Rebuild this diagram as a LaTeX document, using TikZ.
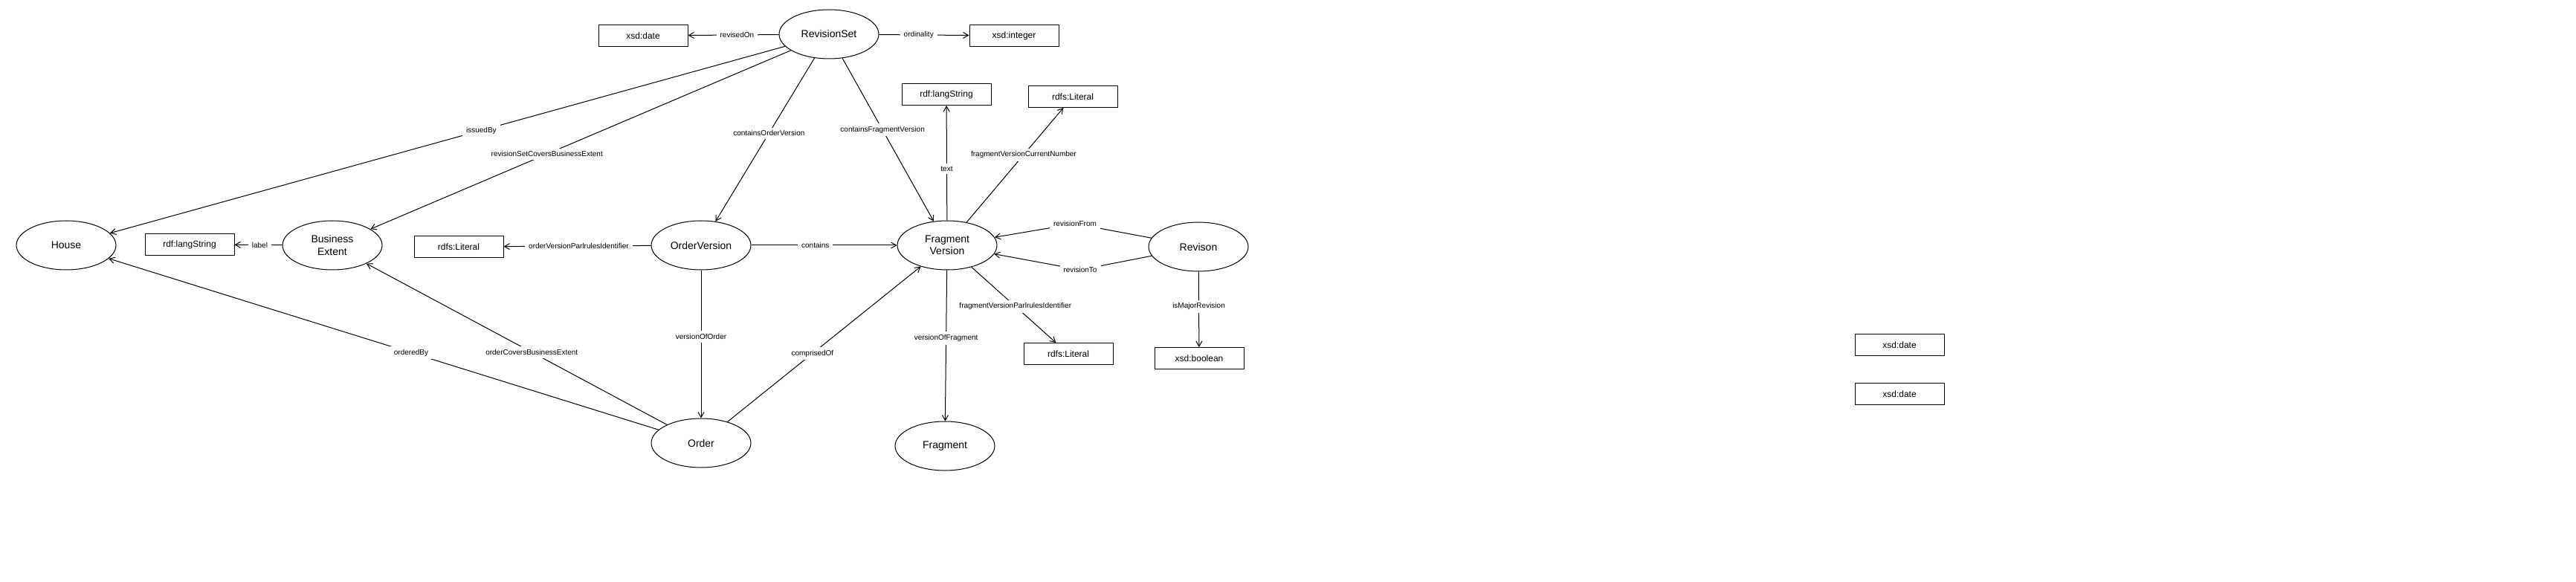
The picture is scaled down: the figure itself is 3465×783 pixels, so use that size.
\documentclass[tikz,border=0pt]{standalone}
\usepackage{fontspec}
\setmainfont{Liberation Sans}
\usetikzlibrary{shapes.geometric,arrows.meta}

\begin{document}
\begin{tikzpicture}[x=1pt, y=-1pt,
    cls/.style={ellipse, draw, line width=1pt, minimum width=134pt, minimum height=66pt, inner sep=0pt, align=center, font=\fontsize{14}{16.5}\selectfont},
    lit/.style={rectangle, draw, line width=1pt, minimum width=120pt, minimum height=29pt, inner sep=0pt, font=\fontsize{12}{14}\selectfont},
    rel/.style={line width=1pt, -{Straight Barb[length=7pt,width=8pt]}},
    lbl/.style={fill=white, inner xsep=5pt, inner ysep=4pt, font=\fontsize{10}{12}\selectfont}]
    \useasboundingbox (0,0) rectangle (3465,783);

    % Draw class nodes
    \node[cls] (revset) at (1115, 46) {RevisionSet};
    \node[cls] (house) at (89, 330) {House};
    \node[cls] (bext) at (447, 330) {Business\\Extent};
    \node[cls] (ordver) at (943, 330) {OrderVersion};
    \node[cls] (fragver) at (1274, 330) {Fragment\\Version};
    \node[cls] (revison) at (1612, 332) {Revison};
    \node[cls] (order) at (943, 596) {Order};
    \node[cls] (fragment) at (1271, 600) {Fragment};

    % Draw literal nodes
    \node[lit] (dateA) at (865, 48) {xsd:date};
    \node[lit] (intA) at (1364, 48) {xsd:integer};
    \node[lit] (langB) at (1273, 127) {rdf:langString};
    \node[lit] (litA) at (1443, 130) {rdfs:Literal};
    \node[lit] (langA) at (255, 329) {rdf:langString};
    \node[lit] (litB) at (617, 332) {rdfs:Literal};
    \node[lit] (litC) at (1437, 476) {rdfs:Literal};
    \node[lit] (boolA) at (1613, 482) {xsd:boolean};
    \node[lit] (dateB) at (2555, 464) {xsd:date};
    \node[lit] (dateC) at (2555, 530) {xsd:date};

    % Bend points
    \coordinate (fromBend) at (1446, 301);
    \coordinate (toBend) at (1453, 363);

    % Draw edges
    \draw[rel] (revset) -- node[lbl, pos=0.46] {revisedOn} (dateA);
    \draw[rel] (revset) -- node[lbl, pos=0.44] {ordinality} (intA);
    \draw[rel] (revset) -- node[lbl, pos=0.45] {issuedBy} (house);
    \draw[rel] (revset) -- node[lbl, pos=0.58] {revisionSetCoversBusinessExtent} (bext);
    \draw[rel] (revset) -- node[lbl, pos=0.46] {containsOrderVersion} (ordver);
    \draw[rel] (revset) -- node[lbl, pos=0.44] {containsFragmentVersion} (fragver);
    \draw[rel] (fragver) -- node[lbl, pos=0.45] {text} (langB);
    \draw[rel] (fragver) -- node[lbl, pos=0.59] {fragmentVersionCurrentNumber} (litA);
    \draw[rel] (fragver) -- node[lbl, pos=0.52] {fragmentVersionParlrulesIdentifier} (litC);
    \draw[rel] (fragver) -- node[lbl, pos=0.45] {versionOfFragment} (fragment);
    \draw[rel] (ordver) -- node[lbl, pos=0.44] {contains} (fragver);
    \draw[rel] (ordver) -- node[lbl, pos=0.49] {orderVersionParlrulesIdentifier} (litB);
    \draw[rel] (bext) -- node[lbl, pos=0.47] {label} (langA);
    \draw[rel] (ordver) -- node[lbl, pos=0.45] {versionOfOrder} (order);
    \draw[rel] (order) -- node[lbl, pos=0.44] {comprisedOf} (fragver);
    \draw[rel] (order) -- node[lbl, pos=0.45] {orderedBy} (house);
    \draw[rel] (order) -- node[lbl, pos=0.45] {orderCoversBusinessExtent} (bext);
    \draw[rel] (revison) -- (fromBend) -- (fragver);
    \node[lbl] at (fromBend) {revisionFrom};
    \draw[rel] (revison) -- (toBend) -- (fragver);
    \node[lbl] at (toBend) {revisionTo};
    \draw[rel] (revison) -- node[lbl, pos=0.46] {isMajorRevision} (boolA);
\end{tikzpicture}
\end{document}
